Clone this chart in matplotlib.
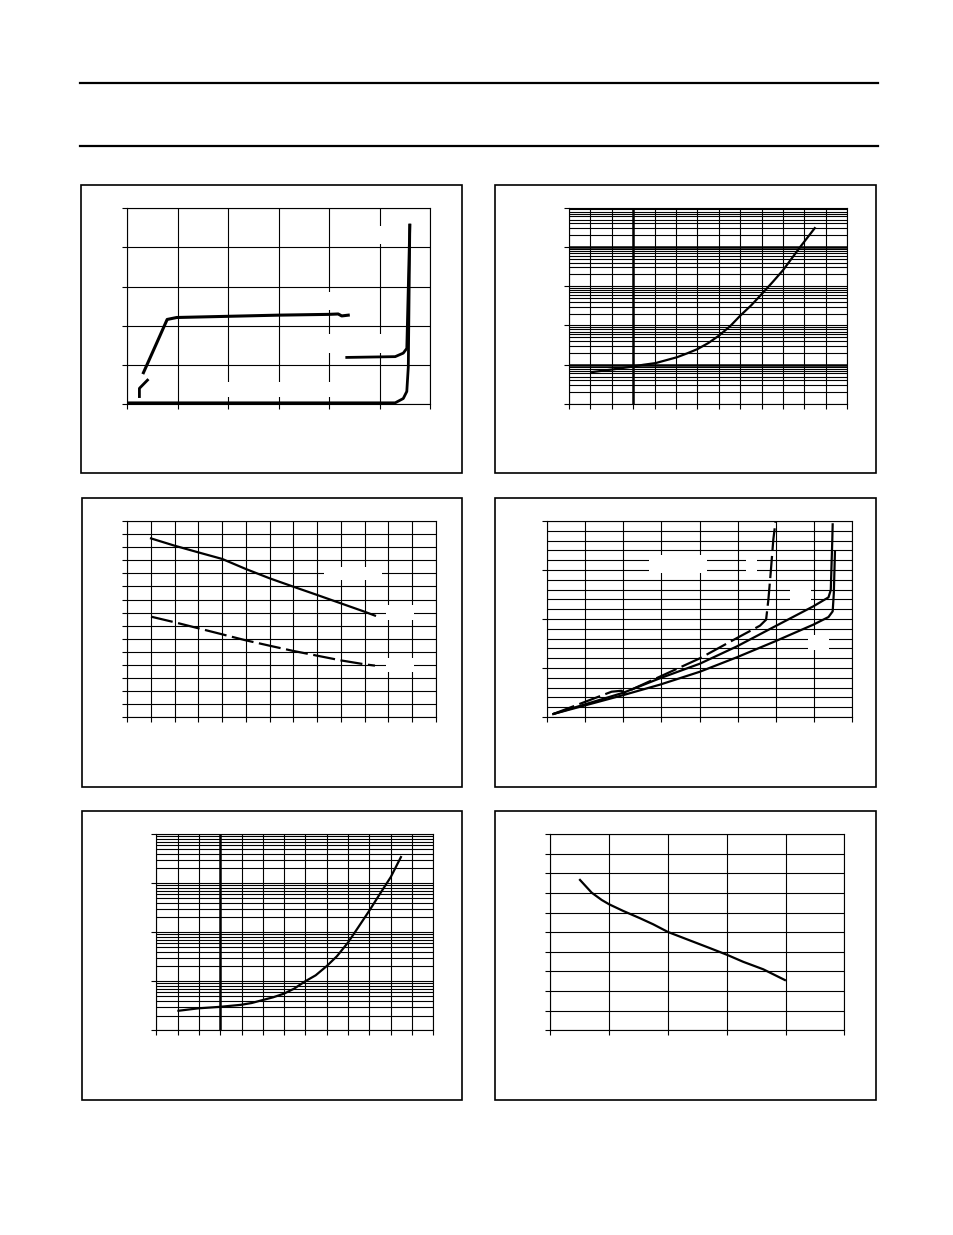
import matplotlib
matplotlib.use('Agg')
import matplotlib.pyplot as plt
import numpy as np
from matplotlib.patches import Rectangle
from matplotlib.lines import Line2D
from matplotlib.ticker import MultipleLocator, LogLocator, NullFormatter

# ---------------- data ----------------
# Panel 1 (linear grid 0..6 x 0..5)
p1_xlim = (0, 6)
p1_ylim = (0, 5)
p1_a_x = [0.24, 0.24, 0.40]
p1_a_y = [0.19, 0.40, 0.61]
p1_b_x = [0.32, 0.58, 0.79, 0.98, 2.99, 3.99, 4.18, 4.25, 4.38]
p1_b_y = [0.80, 1.55, 2.16, 2.21, 2.27, 2.29, 2.30, 2.25, 2.27]
p1_c_x = [4.35, 5.31, 5.47, 5.54, 5.60]
p1_c_y = [1.19, 1.21, 1.30, 1.42, 4.57]
p1_d_x = [0.00, 5.31, 5.47, 5.54, 5.57, 5.60]
p1_d_y = [0.03, 0.03, 0.14, 0.32, 0.95, 4.57]
p1_label_boxes = [(4.85, 4.10, 0.30, 0.45), (3.85, 1.30, 1.30, 0.48),
                  (1.10, 0.19, 3.00, 0.38), (3.80, 2.40, 0.40, 0.46)]

# Panel 2 (temperature vs log value)
p2_xlim = (-75, 250)
p2_ylim = (1, 1e5)
p2_temp = [-48, -24, 1, 12, 26, 51, 63, 75, 88, 100, 113, 125, 138, 150, 163, 175, 195, 212]
p2_val = [6.5, 7.6, 9.1, 10, 11, 15.5, 19.5, 25, 36, 55, 95, 178, 330, 630, 1290, 2570,
          10000, 30200]

# Panel 3 (temperature vs linear value, two series)
p3_xlim = (-75, 250)
p3_ylim = (0, 15)
p3_temp = [-50, -25, 0, 25, 50, 75, 100, 125, 150, 175, 186]
p3_solid = [13.67, 13.11, 12.60, 12.10, 11.33, 10.62, 9.98, 9.35, 8.71, 8.07, 7.77]
p3_dash = [7.69, 7.26, 6.80, 6.34, 5.88, 5.47, 5.07, 4.71, 4.35, 4.05, 3.95]
p3_label_boxes = [(132, 10.49, 61, 0.99), (198, 7.43, 29, 1.15), (198, 3.46, 29, 1.07)]

# Panel 4 (three series)
p4_xlim = (0, 8)
p4_ylim = (0, 20)
p4_dash_x = [0.16, 1.69, 1.95, 2.02, 2.96, 4.01, 4.98, 5.59, 5.75, 5.81, 5.87, 5.94, 6.00]
p4_dash_y = [0.31, 2.58, 2.68, 2.45, 4.12, 5.99, 8.05, 9.32, 9.93, 11.97, 14.66, 18.10, 20.00]
p4_mid_x = [0.16, 2.00, 2.96, 4.01, 4.98, 5.98, 6.99, 7.39, 7.45, 7.49, 7.50]
p4_mid_y = [0.31, 2.48, 3.95, 5.44, 7.20, 9.24, 11.29, 12.21, 12.96, 18.06, 19.66]
p4_low_x = [0.16, 2.00, 2.96, 4.01, 4.98, 5.98, 6.99, 7.39, 7.50, 7.53, 7.56]
p4_low_y = [0.31, 2.24, 3.30, 4.62, 6.09, 7.71, 9.42, 10.20, 10.78, 12.62, 16.87]
p4_label_boxes = [(2.67, 14.7, 1.52, 1.8), (5.21, 14.7, 0.29, 1.8),
                  (6.38, 11.8, 0.54, 1.7), (6.85, 6.8, 0.55, 1.6)]

# Panel 5 (temperature vs log value)
p5_xlim = (-75, 250)
p5_ylim = (1, 1e4)
p5_temp = [-49, -26, -1, 24, 37, 49, 62, 75, 87, 99, 112, 125, 137, 150, 162, 175, 187, 200, 212]
p5_val = [2.5, 2.8, 3.0, 3.3, 3.6, 4.1, 4.7, 5.6, 7.1, 9.8, 13.2, 20.4, 32.4, 61.7, 126,
          275, 589, 1318, 3388]

# Panel 6
p6_xlim = (0, 5)
p6_ylim = (0, 10)
p6_x = [0.505, 0.704, 0.874, 1.00, 1.24, 1.525, 1.75, 2.00, 2.32, 2.72, 3.01, 3.28, 3.62, 3.99]
p6_y = [7.66, 7.01, 6.64, 6.42, 6.08, 5.71, 5.40, 5.01, 4.64, 4.18, 3.84, 3.49, 3.11, 2.56]

# ---------------- layout ----------------
W, H = 954, 1235
fig = plt.figure(figsize=(W / 100, H / 100), dpi=100)
fig.patch.set_facecolor('white')

for yy in (83, 146):
    fig.add_artist(Line2D([80 / W, 878 / W], [1 - yy / H] * 2, lw=1.6, color='black'))

boxes = [(81, 462, 185, 473), (495.5, 876, 185, 473),
         (81.5, 462, 498, 787), (495.5, 876, 498, 787),
         (81.5, 462, 811, 1100), (495.5, 876, 811, 1100)]
for (l, r, t, b) in boxes:
    fig.add_artist(Rectangle((l / W, 1 - b / H), (r - l) / W, (b - t) / H,
                             transform=fig.transFigure, fill=False, lw=1.2, ec='black'))


def make_ax(l, r, t, b):
    return fig.add_axes([l / W, 1 - b / H, (r - l) / W, (b - t) / H])


def style(ax):
    for s in ax.spines.values():
        s.set_linewidth(0.8)
        s.set_color('black')
    ax.tick_params(which='major', direction='out', length=3.5, width=0.8, color='black',
                   labelbottom=False, labelleft=False)
    ax.tick_params(which='minor', length=0, labelbottom=False, labelleft=False)
    ax.grid(which='both', color='black', linewidth=0.8)
    ax.set_axisbelow(True)


def add_boxes(ax, boxes_list):
    for (x0, y0, w, h) in boxes_list:
        ax.add_patch(Rectangle((x0, y0), w, h, facecolor='white', edgecolor='none', zorder=1))


# Panel 1
ax1 = make_ax(127.3, 430, 208.3, 404)
ax1.set_xlim(*p1_xlim)
ax1.set_ylim(*p1_ylim)
ax1.xaxis.set_major_locator(MultipleLocator(1))
ax1.yaxis.set_major_locator(MultipleLocator(1))
style(ax1)
add_boxes(ax1, p1_label_boxes)
ax1.plot(p1_a_x, p1_a_y, color='black', lw=2.0, zorder=3)
ax1.plot(p1_b_x, p1_b_y, color='black', lw=2.2, zorder=3)
ax1.plot(p1_c_x, p1_c_y, color='black', lw=2.0, zorder=3)
ax1.plot(p1_d_x, p1_d_y, color='black', lw=2.0, zorder=3)

# Panel 2
ax2 = make_ax(569, 847.3, 207.7, 404)
ax2.set_yscale('log')
ax2.set_xlim(*p2_xlim)
ax2.set_ylim(*p2_ylim)
ax2.xaxis.set_major_locator(MultipleLocator(25))
ax2.yaxis.set_major_locator(LogLocator(base=10, numticks=10))
ax2.yaxis.set_minor_locator(LogLocator(base=10, subs=np.arange(2, 10), numticks=20))
ax2.yaxis.set_minor_formatter(NullFormatter())
style(ax2)
ax2.axvline(0, color='black', lw=1.8, zorder=0.6)
ax2.axhline(10, color='black', lw=1.8, zorder=0.6)
ax2.axhline(1e4, color='black', lw=1.8, zorder=0.6)
ax2.plot(p2_temp, p2_val, color='black', lw=1.6, zorder=3)

# Panel 3
ax3 = make_ax(127.3, 435.7, 521, 717.3)
ax3.set_xlim(*p3_xlim)
ax3.set_ylim(*p3_ylim)
ax3.xaxis.set_major_locator(MultipleLocator(25))
ax3.yaxis.set_major_locator(MultipleLocator(1))
style(ax3)
add_boxes(ax3, p3_label_boxes)
ax3.plot(p3_temp, p3_solid, color='black', lw=1.6, zorder=3)
ax3.plot(p3_temp, p3_dash, color='black', lw=1.6, zorder=3, dashes=(10, 2.5))

# Panel 4
ax4 = make_ax(547.3, 851.7, 521, 717)
ax4.set_xlim(*p4_xlim)
ax4.set_ylim(*p4_ylim)
ax4.xaxis.set_major_locator(MultipleLocator(1))
ax4.yaxis.set_major_locator(MultipleLocator(5))
ax4.yaxis.set_minor_locator(MultipleLocator(1))
style(ax4)
add_boxes(ax4, p4_label_boxes)
ax4.plot(p4_dash_x, p4_dash_y, color='black', lw=1.6, zorder=3, dashes=(10, 2.5))
ax4.plot(p4_mid_x, p4_mid_y, color='black', lw=1.6, zorder=3)
ax4.plot(p4_low_x, p4_low_y, color='black', lw=1.6, zorder=3)

# Panel 5
ax5 = make_ax(156.3, 433.3, 834, 1030.3)
ax5.set_yscale('log')
ax5.set_xlim(*p5_xlim)
ax5.set_ylim(*p5_ylim)
ax5.xaxis.set_major_locator(MultipleLocator(25))
ax5.yaxis.set_major_locator(LogLocator(base=10, numticks=10))
ax5.yaxis.set_minor_locator(LogLocator(base=10, subs=np.arange(2, 10), numticks=20))
ax5.yaxis.set_minor_formatter(NullFormatter())
style(ax5)
ax5.axvline(0, color='black', lw=1.8, zorder=0.6)
ax5.plot(p5_temp, p5_val, color='black', lw=1.6, zorder=3)

# Panel 6
ax6 = make_ax(550.3, 844.3, 834, 1030.3)
ax6.set_xlim(*p6_xlim)
ax6.set_ylim(*p6_ylim)
ax6.xaxis.set_major_locator(MultipleLocator(1))
ax6.yaxis.set_major_locator(MultipleLocator(1))
style(ax6)
ax6.plot(p6_x, p6_y, color='black', lw=1.6, zorder=3)

fig.savefig('out.png', dpi=100, facecolor='white')
